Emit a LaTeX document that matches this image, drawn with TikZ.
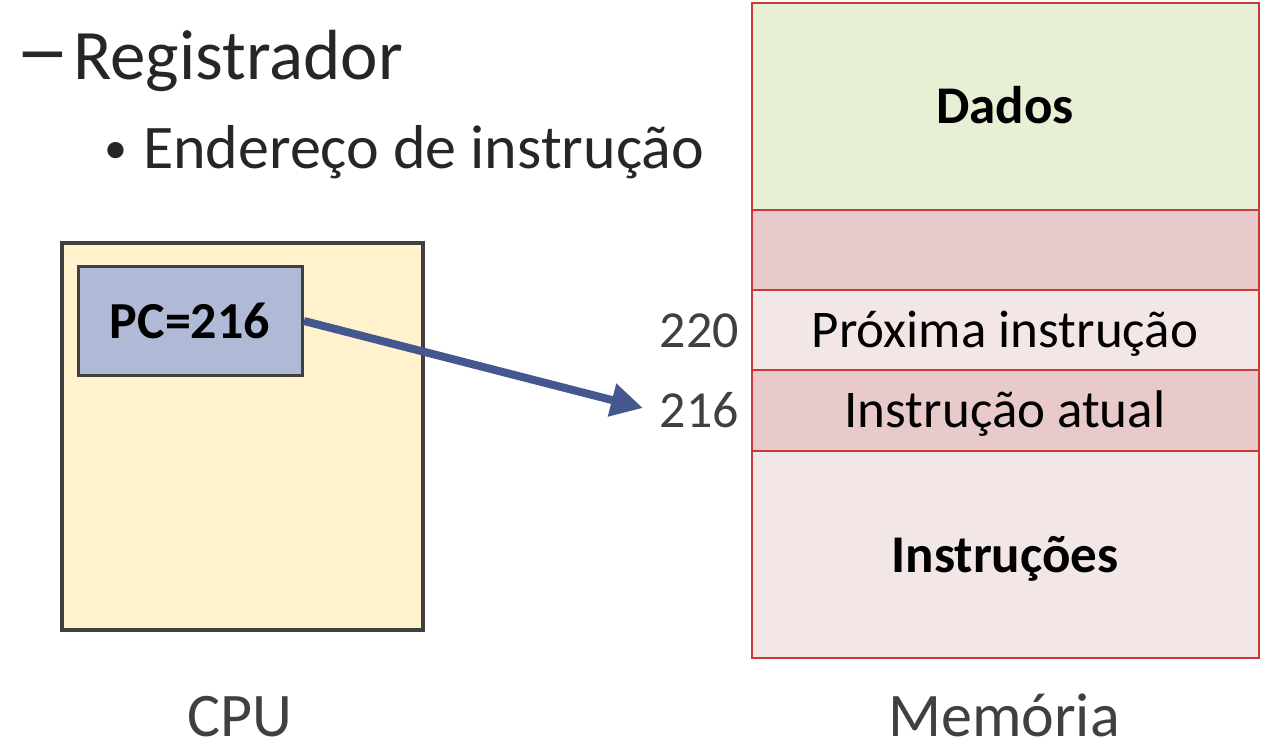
\documentclass[tikz,border=0pt]{standalone}
\usepackage{fontspec}
\usepackage{graphicx}
\setmainfont{Carlito}
\usetikzlibrary{arrows.meta}
\definecolor{txtdark}{HTML}{262626}
\definecolor{txtgray}{HTML}{404040}
\definecolor{cpufill}{HTML}{FFF2CC}
\definecolor{boxline}{HTML}{404040}
\definecolor{pcfill}{HTML}{B0BAD7}
\definecolor{arrowblue}{HTML}{44578F}
\definecolor{memline}{HTML}{C9393A}
\definecolor{green}{HTML}{E7F0D5}
\definecolor{pinkdark}{HTML}{E8CACB}
\definecolor{pinklight}{HTML}{F3E6E6}
\tikzset{
  txt/.style={inner sep=0pt, outer sep=0pt},
  memrow/.style={draw=memline, line width=2pt, minimum width=507pt, inner sep=0pt, anchor=north west},
}
\begin{document}
\begin{tikzpicture}[x=1pt,y=1pt]
\useasboundingbox (0,0) rectangle (1265,-754);
% heading
\node[txt, anchor=base west, text=txtdark, font=\fontsize{71}{78}\selectfont] (dash) at (15,-80) {\scalebox{1.55}[1.25]{–}};
\node[txt, anchor=base west, text=txtdark, font=\fontsize{71}{78}\selectfont] (reg) at (73,-80) {Registrador};
\node[txt, anchor=base west, text=txtdark, font=\fontsize{46}{52}\selectfont] (bul) at (104,-164) {•};
\node[txt, anchor=base west, text=txtdark, font=\fontsize{62}{68}\selectfont] (end) at (143,-168) {Endereço de instrução};
% CPU
\node[draw=boxline, fill=cpufill, line width=4pt, minimum width=361pt, minimum height=387pt, inner sep=0pt, anchor=north west] (cpu) at (60,-241) {};
\node[draw=boxline, fill=pcfill, line width=3pt, minimum width=224pt, minimum height=109pt, inner sep=0pt, anchor=north west] (pcbox) at (77,-265) {};
\node[txt, anchor=base, font=\fontsize{52}{56}\selectfont\bfseries] (pc) at (190,-338) {PC=216};
\node[txt, anchor=base, text=txtgray, font=\fontsize{62}{68}\selectfont] (cpulbl) at (240,-736) {CPU};
% memory
\node[memrow, fill=green, minimum height=207pt] (dados) at (751,-2) {};
\node[memrow, fill=pinkdark, minimum height=80pt] (gap) at (751,-209) {};
\node[memrow, fill=pinklight, minimum height=80pt] (prox) at (751,-289) {};
\node[memrow, fill=pinkdark, minimum height=81pt] (atual) at (751,-369) {};
\node[memrow, fill=pinklight, minimum height=207pt] (instr) at (751,-450) {};
\node[txt, anchor=base, font=\fontsize{53}{58}\selectfont\bfseries] (dadosl) at (1005,-124) {Dados};
\node[txt, anchor=base, font=\fontsize{53}{58}\selectfont] (proxl) at (1005,-347) {Próxima instrução};
\node[txt, anchor=base, font=\fontsize{53}{58}\selectfont] (atuall) at (1005,-427) {Instrução atual};
\node[txt, anchor=base, font=\fontsize{53}{58}\selectfont\bfseries] (instrl) at (1005,-572) {Instruções};
\node[txt, anchor=base east, text=txtgray, font=\fontsize{52}{58}\selectfont] (a220) at (739,-347) {220};
\node[txt, anchor=base east, text=txtgray, font=\fontsize{52}{58}\selectfont] (a216) at (739,-427) {216};
\node[txt, anchor=base, text=txtgray, font=\fontsize{62}{68}\selectfont] (memlbl) at (1004,-736) {Memória};
% arrow
\coordinate (tip) at (643,-408);
\draw[arrowblue, line width=8pt, -{Triangle[length=32pt,width=32pt]}] (pcbox.east) -- (tip);
\end{tikzpicture}
\end{document}
